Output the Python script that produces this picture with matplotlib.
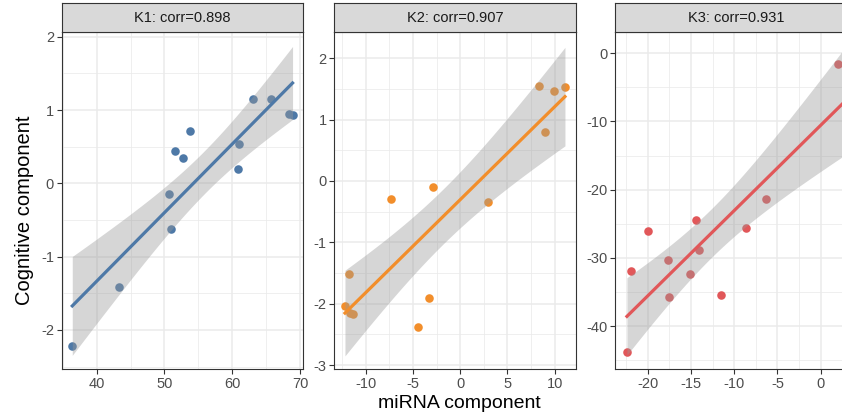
import numpy as np
import matplotlib
matplotlib.use('Agg')
import matplotlib.pyplot as plt
from matplotlib.ticker import MultipleLocator

plt.rcParams['font.family'] = ['Liberation Sans', 'DejaVu Sans']

# data
k1_x = [36.4, 43.3, 50.6, 50.9, 51.5, 52.8, 53.7, 60.8, 61.0, 63.1, 65.7, 68.4, 68.9]
k1_y = [-2.22, -1.41, -0.15, -0.62, 0.44, 0.35, 0.72, 0.20, 0.53, 1.15, 1.15, 0.95, 0.93]

k2_x = [-12.2, -11.8, -11.7, -11.3, -7.3, -4.45, -3.3, -2.85, 2.9, 8.35, 9.0, 9.9, 11.1]
k2_y = [-2.03, -1.52, -2.16, -2.17, -0.30, -2.38, -1.90, -0.09, -0.35, 1.55, 0.80, 1.46, 1.54]

# last point sits just past the right edge of the picture
k3_x = [-22.4, -21.9, -20.0, -17.65, -17.5, -15.1, -14.4, -14.1, -11.5, -8.6, -6.35, 1.95, 2.87]
k3_y = [-43.8, -32.0, -26.1, -30.3, -35.8, -32.4, -24.5, -28.8, -35.4, -25.6, -21.4, -1.5, -5.7]

titles = ['K1: corr=0.898', 'K2: corr=0.907', 'K3: corr=0.931']
colors = ['#4E79A7', '#F28E2B', '#E15759']

# t quantiles (0.975) for the 95% band
t975 = {10: 2.228, 11: 2.201}

W, H = 842, 417
fig = plt.figure(figsize=(W / 100, H / 100), dpi=100)

# panel boxes in pixels: left, right
boxes = [(61.7, 303.0), (334.3, 576.0), (615.0, 856.5)]
top, strip_top, bottom = 31.7, 3.3, 369.3
xlims = [(34.84, 70.44), (-13.33, 12.27), (-23.78, 4.14)]
ylims = [(-2.536, 2.068), (-3.07, 2.434), (-46.35, 3.17)]
xmaj = [10, 5, 5]
ymaj = [1, 1, 10]

panels = [(k1_x, k1_y), (k2_x, k2_y), (k3_x, k3_y)]

for i, (xs, ys) in enumerate(panels):
    l, r = boxes[i]
    ax = fig.add_axes([l / W, (H - bottom) / H, (r - l) / W, (bottom - top) / H])
    ax.set_facecolor('white')
    x = np.array(xs)
    y = np.array(ys)

    ax.scatter(x, y, s=38, color=colors[i], linewidths=0, zorder=2)

    # linear fit with 95% confidence band
    n = len(x)
    b, a = np.polyfit(x, y, 1)
    xx = np.linspace(x.min(), x.max(), 100)
    yy = a + b * xx
    resid = y - (a + b * x)
    s = np.sqrt(np.sum(resid ** 2) / (n - 2))
    se = s * np.sqrt(1 / n + (xx - x.mean()) ** 2 / np.sum((x - x.mean()) ** 2))
    t = t975[n - 2]
    ax.fill_between(xx, yy - t * se, yy + t * se, color='#999999', alpha=0.4,
                    linewidth=0, zorder=3)
    ax.plot(xx, yy, color=colors[i], lw=2.3, zorder=4)

    ax.set_xlim(*xlims[i])
    ax.set_ylim(*ylims[i])
    ax.xaxis.set_major_locator(MultipleLocator(xmaj[i]))
    ax.yaxis.set_major_locator(MultipleLocator(ymaj[i]))
    ax.xaxis.set_minor_locator(MultipleLocator(xmaj[i] / 2))
    ax.yaxis.set_minor_locator(MultipleLocator(ymaj[i] / 2))
    ax.grid(which='major', color='#EBEBEB', lw=1.1, zorder=0)
    ax.grid(which='minor', color='#EBEBEB', lw=0.55, zorder=0)
    ax.set_axisbelow(True)
    ax.tick_params(which='major', length=3.5, width=0.8, color='#333333',
                   labelsize=10.5, labelcolor='#4D4D4D', pad=2)
    ax.tick_params(which='minor', length=0)
    for sp in ax.spines.values():
        sp.set_color('#333333')
        sp.set_linewidth(0.8)
    ax.yaxis.set_major_formatter(matplotlib.ticker.FuncFormatter(
        lambda v, p: '%g' % v if abs(v) > 1e-9 else '0'))
    ax.xaxis.set_major_formatter(matplotlib.ticker.FuncFormatter(
        lambda v, p: '%g' % v if abs(v) > 1e-9 else '0'))

    # facet strip
    sax = fig.add_axes([l / W, (H - top) / H, (r - l) / W, (top - strip_top) / H])
    sax.set_facecolor('#D9D9D9')
    sax.set_xticks([])
    sax.set_yticks([])
    for sp in sax.spines.values():
        sp.set_color('#333333')
        sp.set_linewidth(0.8)
    sax.text(0.5, 0.5, titles[i], ha='center', va='center', fontsize=10.5,
             color='#1A1A1A', transform=sax.transAxes)

fig.text(459 / W, (H - 403) / H, 'miRNA component', ha='center', va='center',
         fontsize=14, color='black')
fig.text(25 / W, (H - 210) / H, 'Cognitive component', ha='center', va='center',
         rotation=90, fontsize=14.5, color='black')

fig.savefig('out.png', dpi=100)
